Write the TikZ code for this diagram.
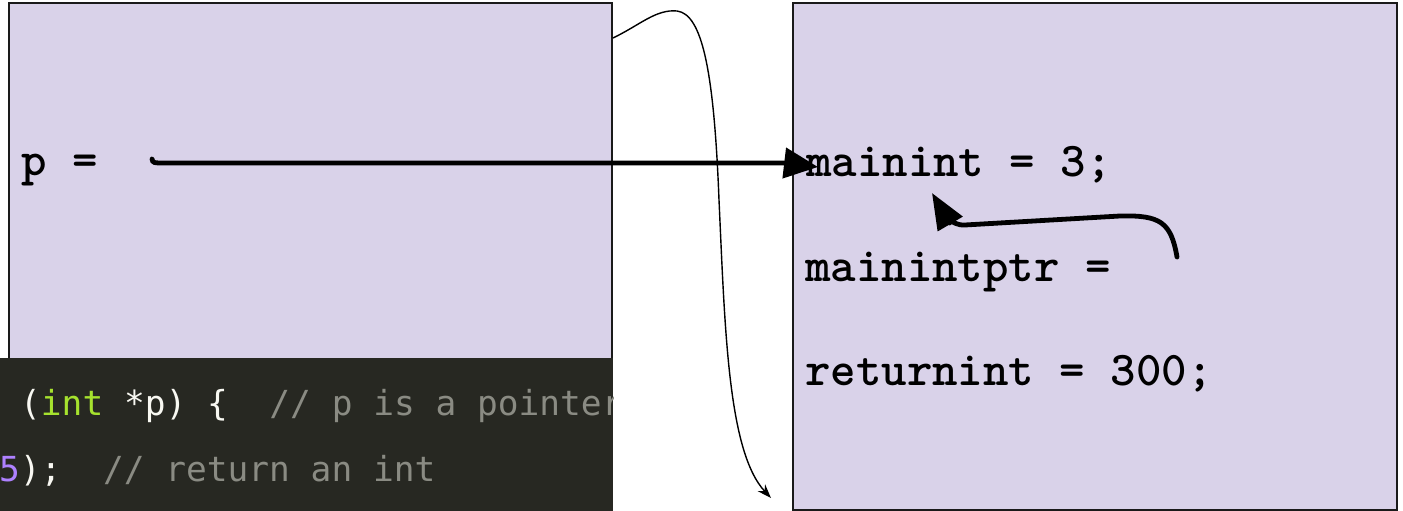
\documentclass[tikz,border=0pt]{standalone}
\usepackage{fontspec}
\usetikzlibrary{arrows.meta}
\newfontfamily\lblfont{lmmonolt10-bold}[Extension=.otf]
\newfontfamily\codefont{DejaVu Sans Mono}
\definecolor{boxfill}{HTML}{D9D2E9}
\definecolor{boxline}{HTML}{1A1A1A}
\definecolor{codebg}{HTML}{272822}
\definecolor{codefg}{HTML}{F8F8F2}
\definecolor{codekw}{HTML}{A6E22E}
\definecolor{codenum}{HTML}{AE81FF}
\definecolor{codecm}{HTML}{8A8B83}
\tikzset{
  box/.style={draw=boxline, line width=2pt, fill=boxfill, anchor=north west, inner sep=0pt},
  panel/.style={fill=codebg, anchor=north west, inner sep=0pt, minimum width=613pt, minimum height=153pt},
  lbl/.style={anchor=base west, inner sep=0pt, font=\lblfont\fontsize{48.5pt}{52pt}\selectfont},
  codetxt/.style={anchor=base west, inner sep=0pt, text=codefg, font=\codefont\fontsize{34.5pt}{40pt}\selectfont},
  thinarrow/.style={line width=1.4pt, -{Stealth[length=14pt,width=10pt]}},
  thickarrow/.style={line width=4.8pt, line cap=round, -{Triangle[length=34pt,width=30pt]}},
  thickarrowb/.style={line width=4.8pt, line cap=round, -{Triangle[length=36pt,width=28pt]}}
}
\begin{document}
\begin{tikzpicture}[x=1pt,y=-1pt]
\useasboundingbox (0,0) rectangle (1403,511);
% boxes
\node[box, minimum width=603pt, minimum height=390pt] (leftbox) at (8,2) {};
\node[box, minimum width=604pt, minimum height=507pt] (rightbox) at (792,2) {};
% code panel
\node[panel] (panel) at (0,358) {};
\begin{scope}
\clip (panel.north west) rectangle (panel.south east);
\node[codetxt] (code1) at (20,415) {(\textcolor{codekw}{int} *p) \{\ \ \textcolor{codecm}{// p is a pointer}};
\node[codetxt] (code2) at (-1,481) {\textcolor{codenum}{5});\ \ \textcolor{codecm}{// return an int}};
\end{scope}
% labels
\node[lbl] (plbl) at (21,175) {p =};
\node[lbl] (mainint) at (806,176) {mainint = 3;};
\node[lbl] (mainptr) at (805,281) {mainintptr =};
\node[lbl] (retint) at (805,385) {returnint = 300;};
% connector coordinates
\coordinate (pdot) at (152,159);
\coordinate (mbase) at (784,163);
\coordinate (mtip) at (818,167);
\coordinate (lout) at (leftbox.east |- 0,38);
\coordinate (thintip) at (771,498);
\coordinate (ptrstart) at (1177,257);
\coordinate (ptrtip) at (932,193);
% thin curved arrow
\draw[thinarrow] (lout) .. controls (640,25) and (656,9) .. (677,11)
  .. controls (702,14) and (714,70) .. (719,200)
  .. controls (725,330) and (728,452) .. (thintip);
% main pointer arrow
\draw[thickarrow] (pdot) .. controls (153,163) .. (166,163) -- (mbase) -- (mtip);
% mainintptr arrow
\draw[thickarrowb] (ptrstart) .. controls (1171,222) and (1160,215) .. (1120,216)
  -- (965,225) .. controls (950,226) and (942,210) .. (ptrtip);
\end{tikzpicture}
\end{document}
